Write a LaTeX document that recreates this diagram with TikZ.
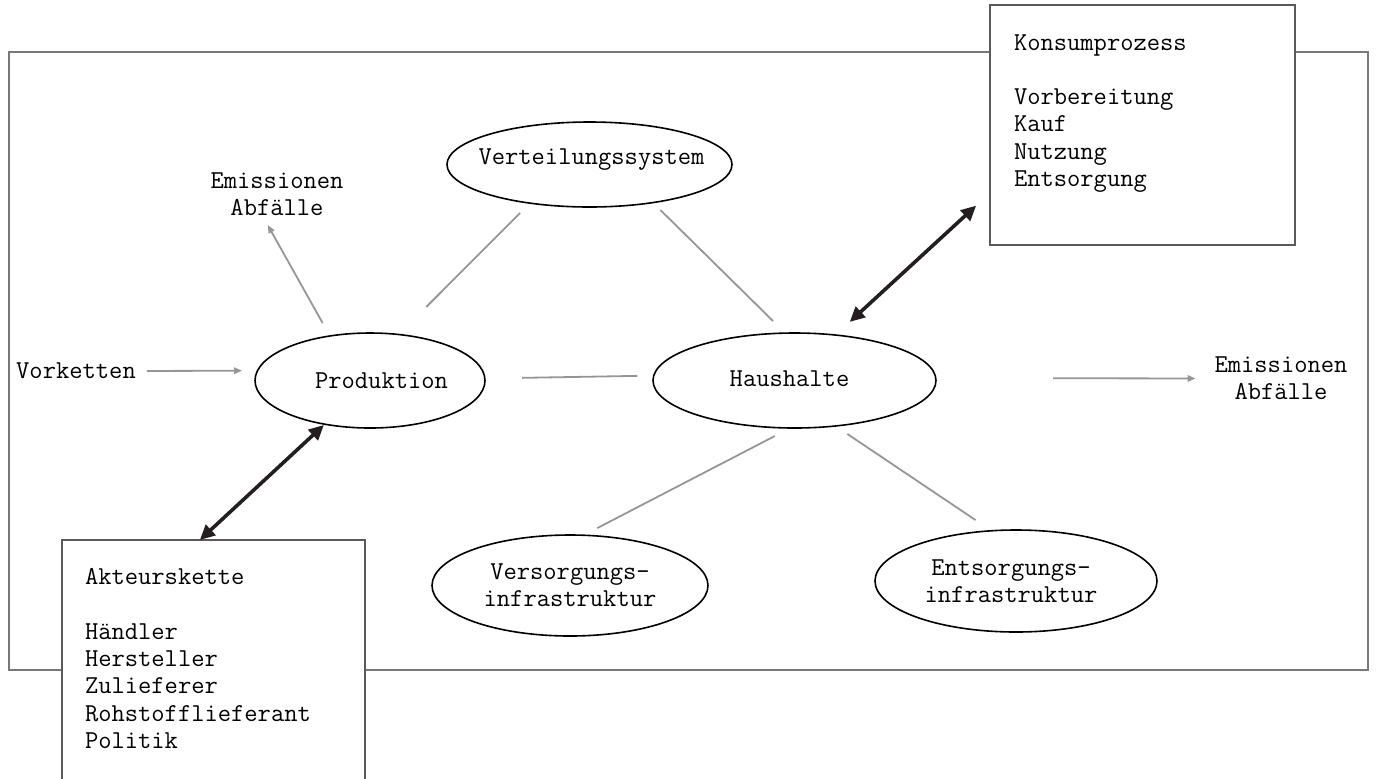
\documentclass[tikz,border=0pt]{standalone}
\usepackage{fontspec}
\usetikzlibrary{arrows.meta,shapes.geometric}
\definecolor{lgray}{RGB}{150,150,150}
\definecolor{fgray}{RGB}{120,120,120}
\definecolor{bgray}{RGB}{90,90,90}
\definecolor{ink}{RGB}{35,31,32}
\tikzset{
 txt/.style={font=\ttfamily\fontsize{12.9}{13.65}\selectfont, inner sep=0pt, outer sep=0pt},
 ell/.style={draw=black, line width=0.8pt, ellipse, inner sep=0pt, outer sep=0pt},
 box/.style={draw=bgray, line width=0.7pt, fill=white, rectangle, inner sep=0pt, outer sep=0pt},
 conn/.style={draw=lgray, line width=0.9pt},
 garrow/.style={conn, -{Triangle[length=4pt,width=3.2pt]}},
 barrow/.style={draw=ink, line width=1.8pt, {Triangle[length=7.5pt,width=7pt]}-{Triangle[length=7.5pt,width=7pt]}},
}
\begin{document}
\begin{tikzpicture}[x=0.5pt,y=-0.5pt]
\useasboundingbox (0,0) rectangle (1377,778);
\draw[fgray, line width=0.7pt] (9,52) rectangle (1368,670);
% boxes
\node[box, minimum width=152.5pt, minimum height=120pt] (kons) at (1142.5,125) {};
\node[txt, anchor=base west, align=left] (konsT) at (1014,186.5) {Konsumprozess\\[13.65pt]Vorbereitung\\Kauf\\Nutzung\\Entsorgung};
\node[box, minimum width=151.5pt, minimum height=130pt] (akt) at (213.5,670) {};
\node[txt, anchor=base west, align=left] (aktT) at (85,748.3) {Akteurskette\\[13.65pt]H\"andler\\Hersteller\\Zulieferer\\Rohstofflieferant\\Politik};
% ellipses
\node[ell, minimum width=142.5pt, minimum height=42.5pt] (vert) at (589.5,164.5) {};
\node[ell, minimum width=115pt, minimum height=47.5pt] (prod) at (370,380.5) {};
\node[ell, minimum width=141.5pt, minimum height=47.5pt] (haus) at (794.5,380.5) {};
\node[ell, minimum width=138pt, minimum height=50.5pt] (vers) at (570,585.5) {};
\node[ell, minimum width=141pt, minimum height=51pt] (ents) at (1016,581) {};
% texts
\node[txt] (vertT) at (591.5,160) {Verteilungssystem};
\node[txt] (prodT) at (381.5,381) {Produktion};
\node[txt] (hausT) at (789.5,379) {Haushalte};
\node[txt, align=center] (versT) at (570,585.5) {Versorgungs-\\infrastruktur};
\node[txt, align=center] (entsT) at (1011,581.5) {Entsorgungs-\\infrastruktur};
\node[txt] (vork) at (76,371) {Vorketten};
\node[txt, align=center] (emisA) at (277,194) {Emissionen\\Abf\"alle};
\node[txt, align=center] (emisB) at (1281,378.5) {Emissionen\\Abf\"alle};
% connectors
\draw[conn, shorten <=19.5pt, shorten >=7pt] (prod.58.5) -- (vert.213);
\draw[conn, shorten <=5.3pt, shorten >=8.6pt] (vert.-31) -- (haus.101);
\draw[conn, shorten <=18.6pt, shorten >=8.2pt] (prod.1.75) -- (haus.178.6);
\draw[conn, shorten <=8.75pt, shorten >=7.75pt] (haus.-95) -- (vers.75);
\draw[conn, shorten <=7.2pt, shorten >=9.6pt] (haus.-48) -- (ents.116);
\draw[garrow, shorten <=7.4pt, shorten >=5.4pt] (prod.132) -- (emisA.-124);
\draw[garrow, shorten <=5.5pt, shorten >=7.7pt] (vork.east) -- (prod.175.2);
\draw[garrow, shorten <=58.6pt, shorten >=9.5pt] (haus.1) -- (emisB.west);
\draw[barrow, shorten <=9.7pt, shorten >=9.4pt] (haus.48) -- (kons.204.7);
\draw[barrow, shorten <=0.6pt] (prod.-136) -- (akt.96.8);
\end{tikzpicture}
\end{document}
